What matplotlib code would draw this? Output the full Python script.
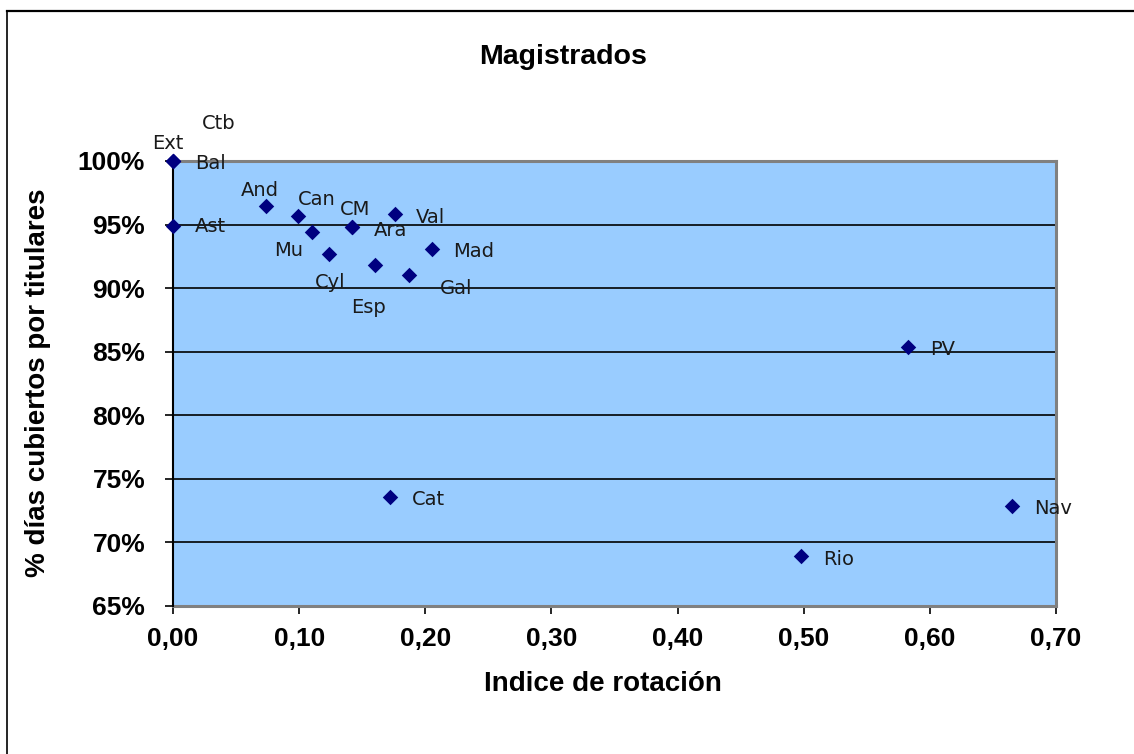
import matplotlib
matplotlib.use("Agg")
import matplotlib.pyplot as plt
from matplotlib.lines import Line2D
from matplotlib.ticker import FuncFormatter, MultipleLocator

# Data
labels = ["Ext", "Ctb", "Bal", "Ast", "And", "Can", "Mu", "Cyl", "CM", "Ara",
          "Esp", "Val", "Gal", "Mad", "PV", "Cat", "Nav", "Rio"]
rotacion = [0.0, 0.0, 0.0, 0.0, 0.074, 0.099, 0.110, 0.124, 0.142, 0.142,
            0.160, 0.176, 0.187, 0.205, 0.583, 0.172, 0.665, 0.498]
cubiertos = [1.000, 1.000, 1.000, 0.949, 0.965, 0.957, 0.944, 0.927, 0.948, 0.948,
             0.918, 0.958, 0.910, 0.931, 0.854, 0.736, 0.729, 0.689]
# label offsets in pixels (dx, dy) from the marker; text left-centre anchored
label_offsets = {"Ext": (-21, 17), "Ctb": (29, 37), "Bal": (22, -3), "Ast": (22, -1),
                 "And": (-26, 15), "Can": (0, 16), "Mu": (-38, -18), "Cyl": (-15, -29),
                 "CM": (-12, 18), "Ara": (22, -3), "Esp": (-24, -42), "Val": (21, -3),
                 "Gal": (31, -13), "Mad": (22, -3), "PV": (22, -3), "Cat": (22, -3),
                 "Nav": (22, -3), "Rio": (22, -3)}

DPI = 100
fig = plt.figure(figsize=(11.34, 7.54), dpi=DPI)
W, H = 1134, 754
x0, x1, ytop, ybot = 173, 1056, 161, 606
ax = fig.add_axes([x0 / W, 1 - ybot / H, (x1 - x0) / W, (ybot - ytop) / H])
ax.set_facecolor("#99CCFF")

ax.scatter(rotacion, cubiertos, marker="D", s=62, color="#000080", zorder=5,
           clip_on=False, linewidths=0)

px2pt = 72.0 / DPI
for lab, xv, yv in zip(labels, rotacion, cubiertos):
    dx, dy = label_offsets[lab]
    ax.annotate(lab, (xv, yv), xytext=(dx * px2pt, dy * px2pt),
                textcoords="offset points", ha="left", va="center",
                fontsize=14, family="DejaVu Sans", color="#1a1a1a",
                annotation_clip=False, zorder=6)

ax.set_xlim(0, 0.70)
ax.set_ylim(0.65, 1.00)
ax.xaxis.set_major_locator(MultipleLocator(0.10))
ax.yaxis.set_major_locator(MultipleLocator(0.05))
ax.xaxis.set_major_formatter(FuncFormatter(lambda v, p: f"{v:.2f}".replace(".", ",")))
ax.yaxis.set_major_formatter(FuncFormatter(lambda v, p: f"{v*100:.0f}%"))

ax.grid(axis="y", color="black", linewidth=1.2)
ax.set_axisbelow(True)

for s in ["top", "right", "bottom"]:
    ax.spines[s].set_color("#808080")
    ax.spines[s].set_linewidth(2.2)
ax.spines["left"].set_color("black")
ax.spines["left"].set_linewidth(1.5)
ax.spines["left"].set_zorder(4)

tickfont = dict(family="Liberation Sans", weight="bold", size=19)
ax.tick_params(axis="both", direction="out", length=6, width=1.2, color="black")
ax.tick_params(axis="y", pad=14)
ax.tick_params(axis="x", pad=9)
for t in ax.get_xticklabels() + ax.get_yticklabels():
    t.set_fontproperties(matplotlib.font_manager.FontProperties(**tickfont))

fig.text(563 / W, 1 - 57 / H, "Magistrados", ha="center", va="center",
         family="Liberation Sans", weight="bold", size=20.5)
fig.text(603 / W, 1 - 684 / H, "Indice de rotación", ha="center", va="center",
         family="Liberation Sans", weight="bold", size=20)
fig.text(38 / W, 1 - 383 / H, "% días cubiertos por titulares", ha="center", va="center",
         rotation=90, family="Liberation Sans", weight="bold", size=20)

# outer chart border (cropped)
fig.add_artist(Line2D([7 / W, 1.0], [1 - 11 / H, 1 - 11 / H], transform=fig.transFigure,
                      color="black", linewidth=1.6))
fig.add_artist(Line2D([7 / W, 7 / W], [0.0, 1 - 11 / H], transform=fig.transFigure,
                      color="black", linewidth=1.2))

fig.savefig("out.png", dpi=DPI)
